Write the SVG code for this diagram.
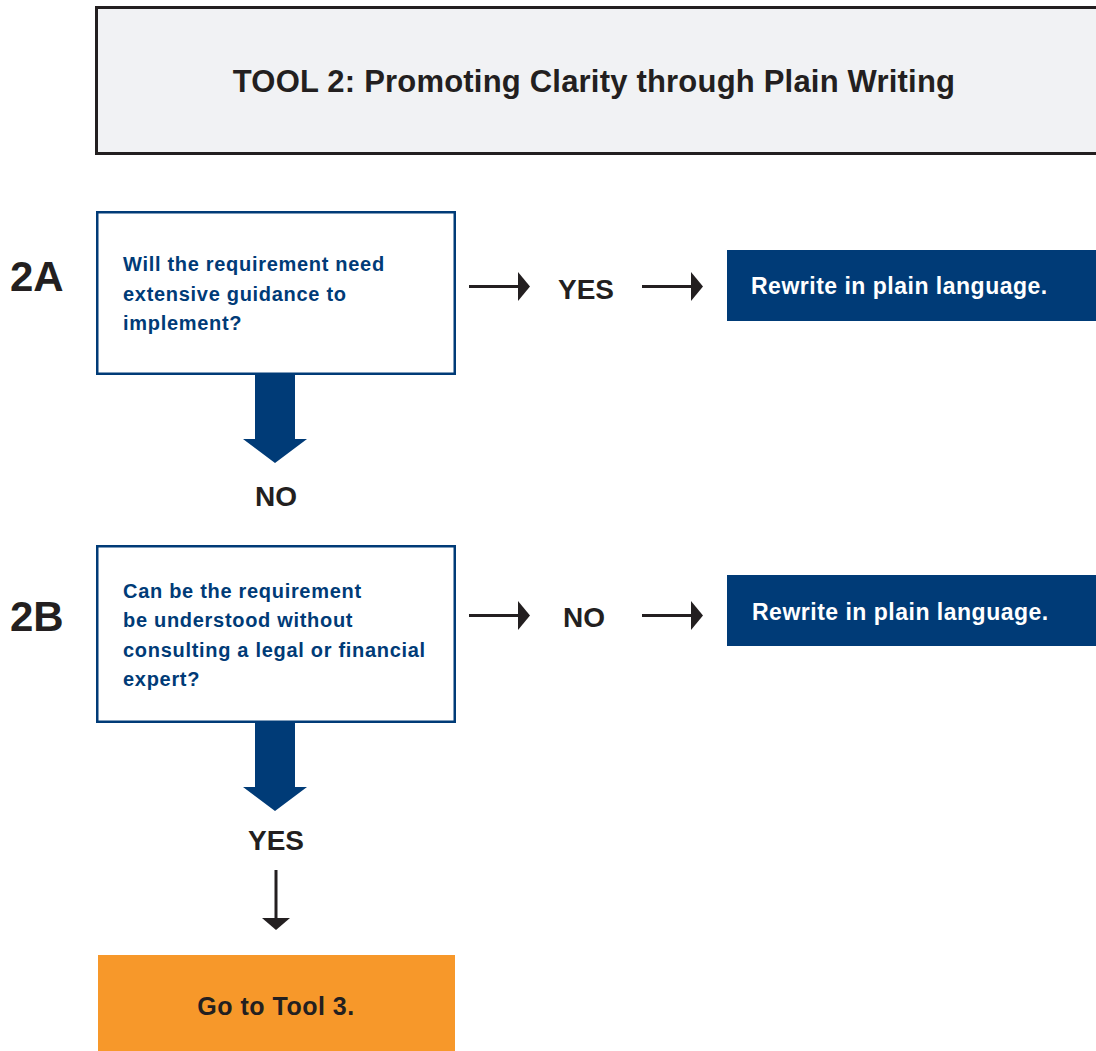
<svg xmlns="http://www.w3.org/2000/svg" width="1096" height="1051" viewBox="0 0 1096 1051">
<style>
  .q{font-family:"Liberation Sans",Arial,sans-serif;font-weight:bold;font-size:20px;letter-spacing:0.7px;fill:#003b77}
  .step{font-family:"Liberation Sans",Arial,sans-serif;font-weight:bold;font-size:42px;fill:#231f20}
  .yn{font-family:"Liberation Sans",Arial,sans-serif;font-weight:bold;font-size:28px;fill:#231f20;text-anchor:middle}
  .rw{font-family:"Liberation Sans",Arial,sans-serif;font-weight:bold;font-size:23px;letter-spacing:0.5px;fill:#ffffff}
  .qbox{fill:#ffffff;stroke:#003b77;stroke-width:2.5}
  .bbox{fill:#003b77}
  .thin{stroke:#231f20;stroke-width:3;fill:none}
  .head{fill:#231f20}
  .fat{fill:#003b77}
</style>
<g id="title">
  <rect x="96.5" y="7.5" width="1010" height="146" fill="#f1f2f4" stroke="#231f20" stroke-width="3"/>
  <text x="594" y="92" text-anchor="middle" font-family="Liberation Sans, Arial, sans-serif" font-weight="bold" font-size="31" letter-spacing="0.2" fill="#231f20">TOOL 2: Promoting Clarity through Plain Writing</text>
</g>
<g id="label-2A"><text class="step" x="10" y="291">2A</text></g>
<g id="q2A">
  <rect class="qbox" x="97.25" y="212.25" width="357.5" height="161.5"/>
  <text class="q" x="123" y="271">Will the requirement need</text>
  <text class="q" x="123" y="300.5">extensive guidance to</text>
  <text class="q" x="123" y="330">implement?</text>
</g>
<g id="r2A">
  <rect class="bbox" x="727" y="250" width="369" height="71"/>
  <text class="rw" x="751" y="294">Rewrite in plain language.</text>
</g>
<g id="label-2B"><text class="step" x="10" y="631">2B</text></g>
<g id="q2B">
  <rect class="qbox" x="97.25" y="546.25" width="357.5" height="175.5"/>
  <text class="q" x="123" y="598">Can be the requirement</text>
  <text class="q" x="123" y="627">be understood without</text>
  <text class="q" x="123" y="656.5">consulting a legal or financial</text>
  <text class="q" x="123" y="685.5">expert?</text>
</g>
<g id="r2B">
  <rect class="bbox" x="727" y="575" width="369" height="71"/>
  <text class="rw" x="752" y="620">Rewrite in plain language.</text>
</g>
<g id="tool3">
  <rect x="98" y="955" width="357" height="96" fill="#f7982a"/>
  <text x="276" y="1015" text-anchor="middle" font-family="Liberation Sans, Arial, sans-serif" font-weight="bold" font-size="25" letter-spacing="0.5" fill="#231f20">Go to Tool 3.</text>
</g>
<g id="connectors">
  <!-- 2A YES row -->
  <line class="thin" x1="469" y1="286.5" x2="519" y2="286.5"/>
  <path class="head" d="M518,272 L530,286.5 L518,301 Z"/>
  <text class="yn" x="586" y="299">YES</text>
  <line class="thin" x1="642" y1="286.5" x2="692" y2="286.5"/>
  <path class="head" d="M691,272 L703,286.5 L691,301 Z"/>
  <!-- 2A NO down -->
  <path class="fat" d="M255,374 L295,374 L295,439 L307,439 L275,463 L243,439 L255,439 Z"/>
  <text class="yn" x="276" y="506">NO</text>
  <!-- 2B NO row -->
  <line class="thin" x1="469" y1="615.5" x2="519" y2="615.5"/>
  <path class="head" d="M518,601 L530,615.5 L518,630 Z"/>
  <text class="yn" x="584" y="627">NO</text>
  <line class="thin" x1="642" y1="615.5" x2="692" y2="615.5"/>
  <path class="head" d="M691,601 L703,615.5 L691,630 Z"/>
  <!-- 2B YES down -->
  <path class="fat" d="M255,722 L295,722 L295,787 L307,787 L275,811 L243,787 L255,787 Z"/>
  <text class="yn" x="276" y="850">YES</text>
  <line class="thin" x1="276" y1="870" x2="276" y2="919"/>
  <path class="head" d="M262,918 L290,918 L276,930 Z"/>
</g>
</svg>
